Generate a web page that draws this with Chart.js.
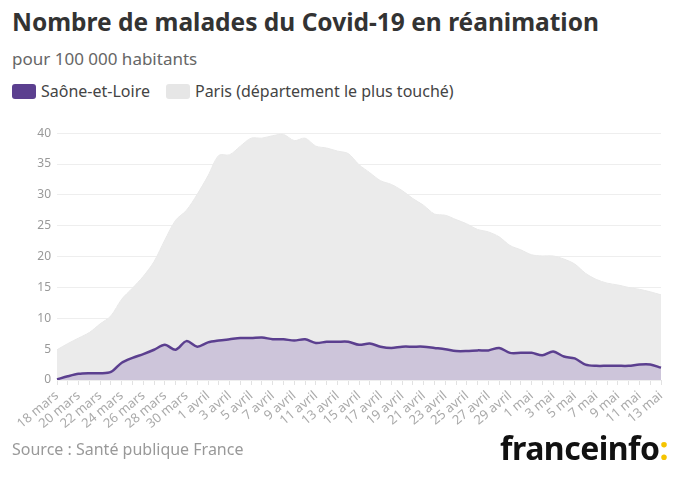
<!DOCTYPE html>
<html>
<head>
<meta charset="utf-8">
<script src="https://cdn.jsdelivr.net/npm/chart.js@4"></script>
<style>
  body { margin: 0; width: 680px; height: 480px; background: #fff; font-family: "Noto Sans", sans-serif; position: relative; overflow: hidden; }
  #title { position: absolute; left: 12px; top: 5px; font-size: 24.5px; font-weight: 700; color: #333; }
  #subtitle { position: absolute; left: 12px; top: 47px; font-size: 17px; color: #666; }
  #legend { position: absolute; left: 12px; top: 80px; font-size: 16px; color: #444; display: flex; align-items: center; }
  .sw { display: inline-block; width: 24px; height: 15px; border-radius: 3px; margin-right: 5px; }
  #chart-box { position: absolute; left: 0; top: 120px; width: 680px; height: 320px; }
  #source { position: absolute; left: 12px; top: 438px; font-size: 16px; color: #999; }
  #logo { position: absolute; right: 12px; top: 426px; font-size: 32px; font-weight: 700; color: #111; letter-spacing: -0.5px; }
  #logo span { color: #f5c400; }
</style>
</head>
<body>
<div id="title">Nombre de malades du Covid-19 en réanimation</div>
<div id="subtitle">pour 100 000 habitants</div>
<div id="legend">
  <span class="sw" style="background:#5b3f8f"></span><span>Saône-et-Loire</span>
  <span class="sw" style="background:#e6e6e6; margin-left:16px"></span><span>Paris (département le plus touché)</span>
</div>
<div id="chart-box"><canvas id="chart"></canvas></div>
<div id="source">Source : Santé publique France</div>
<div id="logo">franceinfo<span>:</span></div>

<script>
// one label per day, 18 mars -> 13 mai
const dates = [
  '18 mars', '19 mars', '20 mars', '21 mars', '22 mars', '23 mars', '24 mars', '25 mars', '26 mars', '27 mars',
  '28 mars', '29 mars', '30 mars', '31 mars',
  '1 avril', '2 avril', '3 avril', '4 avril', '5 avril', '6 avril', '7 avril', '8 avril', '9 avril', '10 avril',
  '11 avril', '12 avril', '13 avril', '14 avril', '15 avril', '16 avril', '17 avril', '18 avril', '19 avril', '20 avril',
  '21 avril', '22 avril', '23 avril', '24 avril', '25 avril', '26 avril', '27 avril', '28 avril', '29 avril', '30 avril',
  '1 mai', '2 mai', '3 mai', '4 mai', '5 mai', '6 mai', '7 mai', '8 mai', '9 mai', '10 mai', '11 mai', '12 mai', '13 mai'
];

const saone_et_loire = [
  0.1, 0.6, 1.0, 1.1, 1.1, 1.3, 2.8, 3.6, 4.2, 4.9,
  5.7, 4.9, 6.3, 5.4,
  6.1, 6.4, 6.6, 6.8, 6.8, 6.9, 6.6, 6.6, 6.4, 6.6,
  6.0, 6.2, 6.2, 6.2, 5.7, 5.9, 5.4, 5.2, 5.4, 5.4,
  5.4, 5.2, 5.0, 4.7, 4.7, 4.8, 4.8, 5.2, 4.4, 4.4,
  4.4, 4.0, 4.6, 3.8, 3.5, 2.5, 2.3, 2.3, 2.3, 2.3, 2.5, 2.5, 2.0
];

const paris = [
  4.9, 5.9, 6.8, 7.7, 9.1, 10.4, 13.1, 14.9, 16.8, 19.2,
  22.7, 25.9, 27.5, 30.1,
  33.1, 36.4, 36.5, 37.9, 39.2, 39.2, 39.6, 39.8, 38.8, 39.2,
  37.9, 37.6, 37.1, 36.7, 34.9, 33.6, 32.3, 31.7, 30.7, 29.4,
  28.3, 26.9, 26.7, 26.0, 25.3, 24.4, 24.0, 23.2, 21.8, 21.1,
  20.3, 20.1, 20.1, 19.6, 18.8, 17.3, 16.3, 15.7, 15.4, 15.0, 14.7, 14.3, 13.8
];

const y_max = 40;
const y_step = 5;

new Chart(document.getElementById('chart'), {
  type: 'line',
  data: {
    labels: dates,
    datasets: [
      {
        label: 'Saône-et-Loire',
        data: saone_et_loire,
        borderColor: '#5b3f8f',
        backgroundColor: '#cdc5da',
        borderWidth: 2.5,
        fill: 'origin',
        pointRadius: 0,
        tension: 0.3
      },
      {
        label: 'Paris (département le plus touché)',
        data: paris,
        borderColor: '#e9e9e9',
        backgroundColor: '#ebebeb',
        borderWidth: 1,
        fill: 'origin',
        pointRadius: 0,
        tension: 0.3
      }
    ]
  },
  options: {
    responsive: true,
    maintainAspectRatio: false,
    animation: false,
    layout: { padding: { top: 10, right: 19, left: 0, bottom: 0 } },
    plugins: {
      legend: { display: false },
      tooltip: { enabled: false }
    },
    scales: {
      x: {
        afterFit: function (scale) { scale.height = 60; },
        grid: { drawOnChartArea: false, drawTicks: true, tickLength: 5, color: '#e2e2e2' },
        border: { display: false },
        ticks: {
          autoSkip: false,
          minRotation: 40,
          maxRotation: 40,
          color: '#aaa',
          font: { family: 'Noto Sans', size: 13 },
          padding: 3,
          callback: function (value, index) { return index % 2 === 0 ? dates[index] : ''; }
        }
      },
      y: {
        min: 0,
        max: y_max,
        afterFit: function (scale) { scale.width = 57; },
        grid: { color: '#eeeeee', drawTicks: false },
        border: { display: false },
        ticks: {
          stepSize: y_step,
          color: '#999',
          padding: 6,
          font: { family: 'Noto Sans', size: 12 }
        }
      }
    }
  }
});
</script>
</body>
</html>
